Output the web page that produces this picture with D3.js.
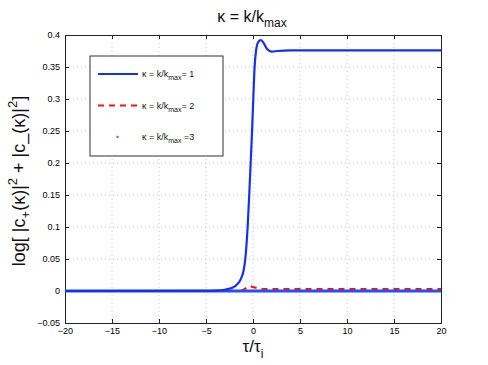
<!DOCTYPE html>
<html>
<head>
<meta charset="utf-8">
<script src="https://cdn.jsdelivr.net/npm/d3@7"></script>
<style>
  body { margin: 0; background: #fff; }
  svg { font-family: "Liberation Sans", Arial, sans-serif; }
</style>
</head>
<body>
<div id="chart"></div>
<script>
// Data

const xTicks = [-20, -15, -10, -5, 0, 5, 10, 15, 20];
const yTicks = [-0.05, 0, 0.05, 0.1, 0.15, 0.2, 0.25, 0.3, 0.35, 0.4];

// kappa = 1
const t1 = [-20, -5, -4, -3, -2.2, -1.7, -1.35, -1.0, -0.82, -0.57, -0.4, -0.25, -0.1, 0.03, 0.17, 0.35, 0.55, 0.85, 1.15, 1.5, 2.0, 2.6, 4, 20];
const v1 = [0, 0.0002, 0.0006, 0.002, 0.005, 0.01, 0.017, 0.032, 0.05, 0.1, 0.15, 0.2, 0.25, 0.3, 0.35, 0.378, 0.389, 0.392, 0.387, 0.378, 0.374, 0.375, 0.376, 0.376];

// kappa = 2
const t2 = [-20, -1.5, -1.0, -0.6, -0.35, 0, 0.4, 0.9, 1.5, 20];
const v2 = [0, 0, 0.002, 0.006, 0.0075, 0.006, 0.005, 0.003, 0.003, 0.003];

// kappa = 3
const t3 = [-20, -10, 0, 10, 20];
const v3 = [0, 0, 0, 0, 0];

const legendRows = [
  { label: "1", color: "#1a30e8", dash: null, dot: false },
  { label: "2", color: "#ff1010", dash: "6,5", dot: false },
  { label: "3", color: "#6a6aff", dash: null, dot: true }
];

// Layout

const W = 488, H = 365;
const m = { left: 65, right: 47, top: 35, bottom: 42 };

const svg = d3.select('#chart').append('svg')
    .attr('width', W)
    .attr('height', H);

const x = d3.scaleLinear().domain([-20, 20]).range([m.left, W - m.right]);
const y = d3.scaleLinear().domain([-0.05, 0.4]).range([H - m.bottom, m.top]);

// grid
svg.append('g').selectAll('line')
    .data(xTicks.slice(1, -1))
    .join('line')
    .attr('x1', d => x(d)).attr('x2', d => x(d))
    .attr('y1', m.top).attr('y2', H - m.bottom)
    .attr('stroke', '#c8c8c8').attr('stroke-width', 1)
    .style('stroke-dasharray', '1,3');
svg.append('g').selectAll('line')
    .data(yTicks.slice(1, -1))
    .join('line')
    .attr('y1', d => y(d)).attr('y2', d => y(d))
    .attr('x1', m.left).attr('x2', W - m.right)
    .attr('stroke', '#c8c8c8').attr('stroke-width', 1)
    .style('stroke-dasharray', '1,3');

// axes
const fmt = d => d3.format('')(d).replace('-', '\u2212');
const xAxis = d3.axisBottom(x).tickValues(xTicks).tickSize(-4).tickPadding(5).tickFormat(fmt);
const yAxis = d3.axisLeft(y).tickValues(yTicks).tickSize(-4).tickPadding(5).tickFormat(fmt);

const gx = svg.append('g').attr('transform', 'translate(0,' + (H - m.bottom) + ')').call(xAxis);
const gy = svg.append('g').attr('transform', 'translate(' + m.left + ',0)').call(yAxis);
svg.append('g').attr('transform', 'translate(0,' + m.top + ')')
    .call(d3.axisTop(x).tickValues(xTicks).tickSize(-4).tickFormat(''));
svg.append('g').attr('transform', 'translate(' + (W - m.right) + ',0)')
    .call(d3.axisRight(y).tickValues(yTicks).tickSize(-4).tickFormat(''));

svg.selectAll('.domain').attr('stroke', '#222');
svg.selectAll('.tick line').attr('stroke', '#222');
[gx, gy].forEach(g => g.selectAll('text')
    .attr('font-size', 9)
    .attr('font-family', '"Liberation Sans", Arial, sans-serif')
    .attr('fill', '#000'));

// lines
const line = d3.line()
    .x(d => x(d[0]))
    .y(d => y(d[1]))
    .curve(d3.curveMonotoneX);

svg.append('path')
    .datum(d3.zip(t2, v2))
    .attr('d', line)
    .attr('fill', 'none')
    .attr('stroke', legendRows[1].color)
    .attr('stroke-width', 2.2)
    .style('stroke-dasharray', legendRows[1].dash);

svg.append('path')
    .datum(d3.zip(t3, v3))
    .attr('d', line)
    .attr('fill', 'none')
    .attr('stroke', '#2a4cf0')
    .attr('stroke-width', 3);

svg.append('path')
    .datum(d3.zip(t1, v1))
    .attr('d', line)
    .attr('fill', 'none')
    .attr('stroke', legendRows[0].color)
    .attr('stroke-width', 2.2);

// legend
const lg = svg.append('g');
lg.append('rect')
    .attr('x', 90).attr('y', 56)
    .attr('width', 133).attr('height', 100)
    .attr('fill', '#fff')
    .attr('stroke', '#333').attr('stroke-width', 1);

legendRows.forEach((r, i) => {
    const yy = 74 + i * 31.5;
    if (r.dot) {
        lg.append('circle').attr('cx', 117.5).attr('cy', yy).attr('r', 1.2).attr('fill', r.color);
    } else {
        lg.append('line')
            .attr('x1', 98).attr('x2', 138)
            .attr('y1', yy).attr('y2', yy)
            .attr('stroke', r.color).attr('stroke-width', 2.2)
            .style('stroke-dasharray', r.dash);
    }
    const t = lg.append('text')
        .attr('x', 142).attr('y', yy + 3)
        .attr('font-size', 9).attr('fill', '#111');
    t.append('tspan').text('\u03ba = k/k');
    t.append('tspan').attr('font-size', 7).attr('dy', 3).text('max');
    t.append('tspan').attr('dy', -3).text(r.dot ? ' =' + r.label : '= ' + r.label);
});

// title
const title = svg.append('text')
    .attr('x', 252).attr('y', 22)
    .attr('text-anchor', 'middle')
    .attr('font-size', 16).attr('fill', '#111');
title.append('tspan').text('\u03ba = k/k');
title.append('tspan').attr('font-size', 12).attr('dy', 5).text('max');

// x label
const xl = svg.append('text')
    .attr('x', 253).attr('y', 352)
    .attr('text-anchor', 'middle')
    .attr('font-size', 17).attr('fill', '#111');
xl.append('tspan').text('\u03c4/\u03c4');
xl.append('tspan').attr('font-size', 12).attr('dy', 6).text('i');

// y label
const yl = svg.append('text')
    .attr('transform', 'translate(25,181) rotate(-90)')
    .attr('text-anchor', 'middle')
    .attr('font-size', 18).attr('fill', '#111');
yl.append('tspan').text('log[ |c');
yl.append('tspan').attr('font-size', 13).attr('dy', 5).text('+');
yl.append('tspan').attr('dy', -5).text('(\u03ba)|');
yl.append('tspan').attr('font-size', 13).attr('dy', -8).text('2');
yl.append('tspan').attr('dy', 8).text(' + |c_(\u03ba)|');
yl.append('tspan').attr('font-size', 13).attr('dy', -8).text('2');
yl.append('tspan').attr('dy', 8).text(']');
</script>
</body>
</html>
